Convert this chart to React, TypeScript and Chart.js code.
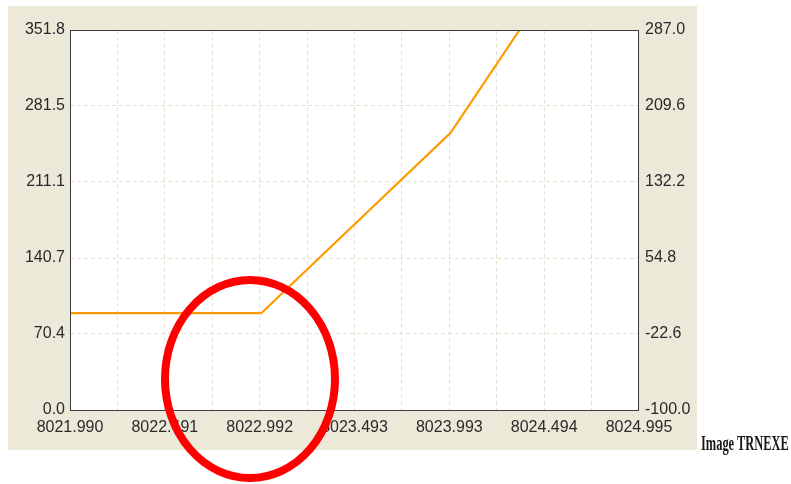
import React, { useEffect, useRef } from "react";
import { Chart, registerables } from "chart.js";

Chart.register(...registerables);

// Data
const lineX = [8021.99, 8023.0, 8024.0, 8024.364];
const lineY = [89.6, 89.6, 256.6, 351.8];

const xMin = 8021.99;
const xMax = 8024.995;
const xTickLabels = ["8021.990", "8022.491", "8022.992", "8023.493", "8023.993", "8024.494", "8024.995"];

const yLeftTickLabels = ["0.0", "70.4", "140.7", "211.1", "281.5", "351.8"];
const yRightTickLabels = ["-100.0", "-22.6", "54.8", "132.2", "209.6", "287.0"];

const caption = "Image TRNEXE";

const PANEL_BG = "#ECE9D8";
const GRID = "#E6E1CC";
const TEXT = "#2a2a2a";
const FONT = { family: "'Liberation Sans', Arial, sans-serif", size: 16 };

export default function App() {
  const ref = useRef<HTMLCanvasElement | null>(null);

  useEffect(() => {
    const canvas = ref.current;
    if (!canvas) return;

    const yLeftVals = yLeftTickLabels.map(parseFloat);
    const yRightVals = yRightTickLabels.map(parseFloat);
    const xGridCount = (xTickLabels.length - 1) * 2;

    const decor = {
      id: "decor",
      beforeDraw(chart: any) {
        const ctx = chart.ctx;
        const a = chart.chartArea;
        ctx.save();
        ctx.fillStyle = "#ffffff";
        ctx.fillRect(0, 0, chart.width, chart.height);
        ctx.fillStyle = PANEL_BG;
        ctx.fillRect(8, 6, 689, 444);
        ctx.fillStyle = "#ffffff";
        ctx.fillRect(a.left, a.top, a.right - a.left, a.bottom - a.top);
        ctx.restore();
      },
      afterDraw(chart: any) {
        const ctx = chart.ctx;
        const a = chart.chartArea;
        ctx.save();
        ctx.strokeStyle = "#3c3c3c";
        ctx.lineWidth = 1;
        ctx.strokeRect(a.left + 0.5, a.top + 0.5, a.right - a.left - 1, a.bottom - a.top);
        // red highlight ellipse annotation
        ctx.beginPath();
        ctx.strokeStyle = "#ff0000";
        ctx.lineWidth = 8;
        ctx.ellipse(250, 379, 85, 99, 0, 0, Math.PI * 2);
        ctx.stroke();
        ctx.restore();
      },
    };

    const chart = new Chart(canvas, {
      type: "line",
      data: {
        datasets: [
          {
            data: lineX.map((x, i) => ({ x, y: lineY[i] })),
            borderColor: "#FF9900",
            borderWidth: 2.2,
            pointRadius: 0,
            tension: 0,
            yAxisID: "y",
          },
        ],
      },
      options: {
        animation: false,
        responsive: false,
        devicePixelRatio: 1,
        layout: { padding: { top: 30, left: 0, right: 0, bottom: 0 } },
        plugins: { legend: { display: false }, tooltip: { enabled: false } },
        scales: {
          x: {
            type: "linear",
            min: xMin,
            max: xMax,
            afterBuildTicks: (scale: any) => {
              const t = [];
              for (let i = 0; i <= xGridCount; i++) t.push({ value: xMin + (i * (xMax - xMin)) / xGridCount });
              scale.ticks = t;
            },
            afterFit: (scale: any) => {
              scale.height = 74;
            },
            ticks: {
              autoSkip: false,
              maxRotation: 0,
              padding: 8,
              color: TEXT,
              font: FONT,
              callback: (_v: any, i: number) => (i % 2 === 0 ? xTickLabels[i / 2] : ""),
            },
            grid: { color: GRID, lineWidth: 1, drawTicks: false },
            border: { display: false, dash: [4, 3] },
          },
          y: {
            type: "linear",
            position: "left",
            min: 0,
            max: 351.8,
            afterBuildTicks: (scale: any) => {
              scale.ticks = yLeftVals.map((v) => ({ value: v }));
            },
            afterFit: (scale: any) => {
              scale.width = 70;
            },
            ticks: {
              padding: 5,
              color: TEXT,
              font: FONT,
              callback: (_v: any, i: number) => yLeftTickLabels[i],
            },
            grid: { color: GRID, lineWidth: 1, drawTicks: false },
            border: { display: false, dash: [4, 3] },
          },
          y1: {
            type: "linear",
            position: "right",
            min: -100,
            max: 287,
            afterBuildTicks: (scale: any) => {
              scale.ticks = yRightVals.map((v) => ({ value: v }));
            },
            afterFit: (scale: any) => {
              scale.width = 152;
            },
            ticks: {
              padding: 6,
              color: TEXT,
              font: FONT,
              callback: (_v: any, i: number) => yRightTickLabels[i],
            },
            grid: { display: false, drawTicks: false },
            border: { display: false },
          },
        },
      },
      plugins: [decor],
    });

    return () => chart.destroy();
  }, []);

  return (
    <div style={{ position: "absolute", left: 0, top: 0, width: 791, height: 484 }}>
      <canvas ref={ref} width={791} height={484} style={{ display: "block", width: 791, height: 484 }} />
      <span
        style={{
          position: "absolute",
          left: 701,
          top: 432,
          fontFamily: "'Liberation Serif', 'Times New Roman', serif",
          fontWeight: "bold",
          fontSize: 22,
          lineHeight: "22px",
          color: "#1a1a1a",
          whiteSpace: "nowrap",
          transform: "scaleX(0.565)",
          transformOrigin: "left top",
        }}
      >
        {caption}
      </span>
    </div>
  );
}
